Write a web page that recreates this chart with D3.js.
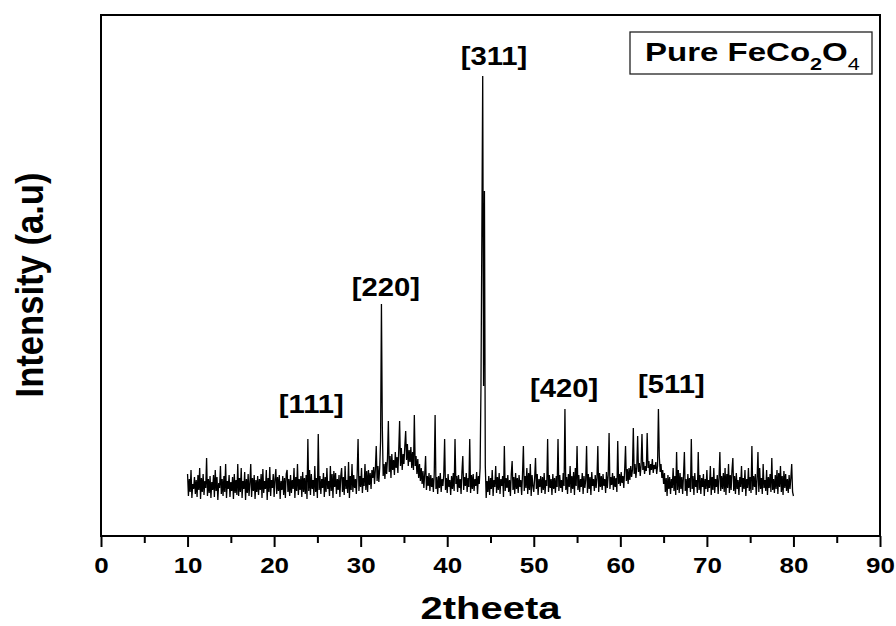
<!DOCTYPE html>
<meta charset="utf-8">
<style>
    body { margin: 0; background: #fff; }
    text { font-family: "Liberation Sans", Arial, sans-serif; font-weight: bold; fill: #000; }
    .frame { fill: none; stroke: #000; stroke-width: 2px; }
    .axis path { display: none; }
    .axis line { stroke: #000; stroke-width: 2px; }
    .trace { fill: none; stroke: #000; stroke-width: 1.3px; stroke-linejoin: miter; }
</style>
<svg width="896" height="626"></svg>
<script src="https://d3js.org/d3.v7.min.js"></script>
<script>

    // scan grid (degrees 2theta)
    var scanStart = 10, scanStep = 0.1;

    // intensity, one row per degree (10.0 .. 79.9), then 80.0
    var intensity = [
        62, 40, 57, 44, 66, 38, 52, 47, 59, 42,
        56, 39, 61, 46, 68, 37, 58, 44, 62, 41,
        55, 48, 78, 40, 57, 43, 60, 38, 54, 46,
        61, 39, 66, 45, 59, 36, 53, 48, 70, 42,
        57, 40, 60, 44, 72, 38, 55, 47, 61, 39,
        54, 45, 59, 37, 62, 43, 56, 41, 72, 40,
        58, 44, 68, 38, 55, 47, 64, 36, 57, 43,
        62, 40, 53, 72, 39, 58, 45, 61, 37, 56,
        44, 60, 41, 57, 46, 62, 38, 67, 43, 55,
        47, 66, 36, 58, 44, 69, 40, 56, 48, 62,
        39, 57, 67, 42, 59, 45, 61, 37, 55, 46,
        60, 41, 58, 38, 62, 66, 44, 57, 40, 61,
        43, 56, 47, 68, 38, 59, 45, 72, 41, 57,
        46, 60, 39, 64, 44, 58, 42, 61, 37, 97,
        45, 66, 41, 62, 47, 56, 40, 70, 44, 58,
        38, 102, 46, 60, 42, 57, 48, 63, 39, 59,
        44, 68, 47, 55, 40, 70, 45, 62, 38, 65,
        49, 63, 42, 57, 46, 61, 39, 60, 68, 44,
        59, 41, 70, 47, 56, 43, 74, 38, 60, 46,
        72, 44, 61, 48, 57, 42, 63, 97, 45, 60,
        49, 68, 43, 58, 50, 72, 46, 65, 44, 66,
        51, 63, 47, 66, 58, 69, 52, 67, 90, 55,
        70, 54, 68, 95, 232, 110, 60, 72, 57, 74,
        62, 78, 115, 64, 80, 58, 82, 66, 76, 61,
        84, 68, 79, 63, 86, 115, 70, 88, 66, 82,
        72, 90, 105, 76, 92, 70, 86, 74, 89, 68,
        84, 66, 121, 70, 80, 62, 77, 58, 72, 55,
        68, 52, 65, 48, 62, 80, 46, 60, 50, 63,
        45, 61, 49, 58, 44, 62, 121, 47, 59, 42,
        60, 48, 63, 44, 57, 50, 61, 97, 46, 58,
        43, 62, 49, 56, 41, 60, 47, 63, 45, 97,
        52, 60, 44, 61, 48, 57, 42, 64, 80, 46,
        59, 50, 63, 44, 58, 49, 97, 43, 61, 47,
        62, 45, 57, 50, 64, 42, 60, 52, 68, 150,
        300, 460, 150, 345, 70, 38, 55, 44, 60, 41,
        58, 47, 66, 40, 56, 49, 70, 43, 59, 46,
        63, 42, 57, 50, 60, 39, 90, 45, 58, 48,
        61, 44, 56, 40, 62, 75, 46, 59, 42, 63,
        47, 58, 43, 61, 49, 56, 41, 62, 90, 45,
        60, 48, 68, 42, 63, 46, 72, 40, 61, 50,
        44, 58, 78, 47, 62, 41, 57, 49, 60, 43,
        59, 46, 63, 42, 56, 50, 97, 44, 61, 48,
        57, 41, 62, 47, 58, 43, 60, 49, 97, 45,
        61, 48, 56, 44, 63, 50, 127, 46, 59, 42,
        62, 49, 70, 43, 60, 47, 64, 41, 68, 50,
        90, 46, 61, 44, 57, 49, 63, 42, 60, 48,
        56, 90, 43, 62, 47, 59, 41, 64, 50, 57,
        45, 61, 48, 58, 90, 44, 63, 49, 60, 46,
        62, 50, 57, 43, 64, 48, 61, 103, 47, 59,
        51, 63, 46, 60, 49, 58, 44, 95, 52, 62,
        50, 64, 53, 60, 48, 66, 90, 55, 67, 52,
        68, 56, 70, 59, 66, 108, 62, 72, 58, 69,
        100, 64, 73, 60, 71, 102, 66, 74, 62, 70,
        65, 103, 68, 75, 61, 72, 66, 77, 63, 71,
        67, 74, 62, 70, 127, 80, 64, 72, 58, 66,
        52, 63, 44, 58, 40, 61, 47, 59, 42, 57,
        48, 68, 45, 60, 41, 84, 46, 66, 43, 63,
        47, 59, 42, 61, 84, 45, 57, 40, 62, 48,
        58, 44, 97, 47, 60, 41, 63, 49, 56, 43,
        84, 46, 61, 42, 58, 49, 62, 40, 57, 47,
        66, 44, 56, 48, 70, 41, 59, 46, 68, 43,
        57, 49, 61, 42, 58, 84, 45, 60, 47, 63,
        44, 68, 41, 62, 48, 72, 43, 61, 46, 66,
        78, 45, 60, 42, 63, 47, 56, 41, 59, 49,
        70, 44, 58, 47, 66, 40, 57, 48, 68, 45,
        59, 43, 90, 46, 60, 49, 62, 41, 57, 84,
        44, 68, 47, 58, 42, 72, 48, 56, 45, 66,
        41, 59, 48, 62, 44, 78, 46, 57, 43, 61,
        47, 66, 42, 63, 49, 70, 44, 60, 41, 65,
        48, 62, 45, 57, 43, 61, 47, 58, 72, 44,
        40
    ];

    // peak annotations
    var peakLabels  = ["[111]", "[220]", "[311]", "[420]", "[511]"];
    var peakAngles  = [24.3, 32.9, 45.4, 53.5, 65.9];
    var peakHeights = [123, 240, 471, 139, 143];

    var xMajorTicks = [0, 10, 20, 30, 40, 50, 60, 70, 80, 90];
    var xMinorTicks = [5, 15, 25, 35, 45, 55, 65, 75, 85];

    var svg = d3.select("svg"),
            plotLeft = 101, plotRight = 880, plotTop = 15, plotBottom = 536;

    var x = d3.scaleLinear().domain([0, 90]).range([plotLeft, plotRight]);
    var y = d3.scaleLinear().domain([0, 521]).range([plotBottom, plotTop]);

    var points = intensity.map(function(v, i) {
        return { angle: scanStart + i * scanStep, value: v };
    });

    var line = d3.line()
            .x(function(d) { return x(d.angle); })
            .y(function(d) { return y(d.value); });

    svg.append("path")
            .datum(points)
            .attr("class", "trace")
            .attr("d", line);

    // axes
    var major = svg.append("g")
            .attr("class", "axis")
            .attr("transform", "translate(0," + plotBottom + ")")
            .call(d3.axisBottom(x).tickValues(xMajorTicks).tickSize(11).tickPadding(10));
    major.selectAll("text")
            .style("font-size", "22px")
            .attr("transform", "scale(1.18,1)");

    svg.append("g")
            .attr("class", "axis")
            .attr("transform", "translate(0," + plotBottom + ")")
            .call(d3.axisBottom(x).tickValues(xMinorTicks).tickSize(7).tickFormat(""));

    svg.append("rect")
            .attr("class", "frame")
            .attr("x", plotLeft).attr("y", plotTop)
            .attr("width", plotRight - plotLeft).attr("height", plotBottom - plotTop);

    // axis titles
    svg.append("text")
            .attr("transform", "translate(" + ((plotLeft + plotRight) / 2) + ",619) scale(1.25,1)")
            .attr("text-anchor", "middle")
            .style("font-size", "32px")
            .text("2theeta");

    svg.append("text")
            .attr("transform", "translate(43,285) rotate(-90) scale(1,1.13)")
            .attr("text-anchor", "middle")
            .style("font-size", "34.6px")
            .text("Intensity (a.u)");

    // peak labels
    svg.selectAll(".peak")
            .data(peakLabels)
            .enter().append("text")
            .attr("class", "peak")
            .attr("transform", function(d, i) {
                return "translate(" + x(peakAngles[i]) + "," + y(peakHeights[i]) + ") scale(1.17,1)";
            })
            .attr("text-anchor", "middle")
            .style("font-size", "25px")
            .text(function(d) { return d; });

    // sample legend
    svg.append("rect")
            .attr("x", 630).attr("y", 32)
            .attr("width", 242).attr("height", 42)
            .attr("fill", "none")
            .attr("stroke", "#222")
            .attr("stroke-width", 1.3);

    var legend = svg.append("text")
            .attr("transform", "translate(645,61) scale(1.27,1)")
            .style("font-size", "26px");
    legend.append("tspan").text("Pure FeCo");
    legend.append("tspan").attr("dy", 9).style("font-size", "17px").text("2");
    legend.append("tspan").attr("dy", -9).text("O");
    legend.append("tspan").attr("dy", 9).style("font-size", "17px").style("font-weight", "normal").text("4");

</script>
